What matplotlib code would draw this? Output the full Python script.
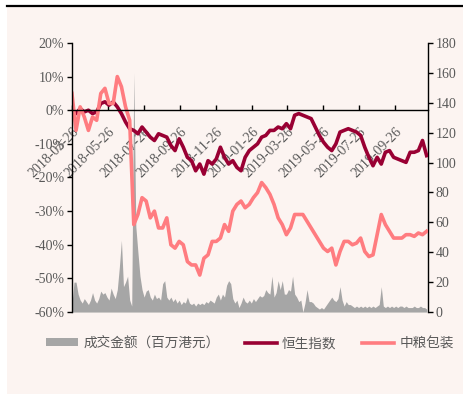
import pandas as pd
import matplotlib.pyplot as plt
from matplotlib.lines import Line2D
from matplotlib.patches import Patch, Rectangle

plt.rcParams['font.family'] = ['Liberation Serif', 'Noto Sans CJK SC']
plt.rcParams['axes.unicode_minus'] = False

# 周度日期（走势）和半周日期（成交额）
dates = pd.date_range('2018-03-26', '2019-11-18', freq='W-MON')
vol_dates = pd.date_range('2018-03-26', '2019-11-18', periods=173)

# 恒生指数 累计涨跌幅 (%)
hsi = [0, -1, 0.5, -0.5, 0, -1, -0.5, 2, 2.5, 1.5,
       2.5, 1, -1, -3.5, -5.5, -6, -7, -5, -6.5, -8,
       -9, -7, -7.5, -8, -10.5, -12, -8.5, -11, -14, -15,
       -18, -16, -19, -15, -16, -14.5, -11, -14, -16, -15,
       -17, -18, -14, -12, -11, -10, -8, -7.5, -6, -6,
       -5, -5.5, -4, -5.5, -1.5, -1, -1.5, -2, -2.5, -5,
       -7.5, -9.5, -11, -12, -10, -6.5, -6, -5.5, -6, -6.5,
       -7.5, -11, -14, -16.5, -14, -16, -12.5, -12, -14, -14.5,
       -15, -15.5, -12.5, -12.5, -12, -9, -13.5]

# 中粮包装 累计涨跌幅 (%)
cpmc = [5, -6, 1, -2, -6, -2, -3, 5, 6.5, 2,
        2, 10, 7, 1, -3, -34, -31, -26, -27, -32,
        -30, -35, -35, -32, -40, -41, -39, -40, -45, -46,
        -46, -49, -44, -43, -39, -39, -38, -34, -36, -30,
        -28, -27, -29, -28, -26, -24.5, -21.5, -23, -25, -28,
        -32, -34, -37, -35, -31, -31, -31, -33, -35, -37,
        -39, -41, -42, -41, -46, -42, -39, -39, -40, -39.5,
        -38, -42, -43.5, -43, -37, -31, -34, -36, -38, -38,
        -38, -37, -37, -37.5, -36.5, -37, -36]

# 成交金额（百万港元）
volume = [5, 20, 20, 12, 8, 6, 9, 7, 5, 8,
          13, 8, 6, 9, 14, 12, 13, 10, 8, 16,
          12, 9, 15, 30, 48, 17, 20, 24, 8, 4,
          160, 57, 40, 24, 15, 10, 14, 15, 10, 8,
          12, 9, 10, 8, 19, 21, 10, 8, 10, 7,
          9, 6, 8, 5, 7, 6, 10, 6, 5, 6,
          4, 6, 5, 6, 5, 7, 6, 8, 7, 6,
          10, 12, 8, 12, 10, 18, 21, 19, 9, 6,
          8, 3, 6, 10, 7, 6, 8, 6, 9, 7,
          9, 11, 10, 11, 15, 13, 12, 24, 10, 13,
          21, 15, 21, 12, 12, 15, 14, 24, 12, 10,
          7, 8, 0, 6, 15, 7, 7, 6, 4, 3,
          2, 3, 2, 4, 6, 8, 10, 8, 7, 9,
          17, 8, 4, 7, 5, 5, 4, 3, 4, 3,
          4, 3, 4, 3, 4, 3, 4, 3, 4, 5,
          17, 4, 3, 4, 3, 4, 3, 4, 3, 4,
          4, 3, 4, 3, 3, 3, 4, 3, 3, 4,
          3, 3, 2]

tick_dates = pd.to_datetime(['2018-03-26', '2018-05-26', '2018-07-26', '2018-09-26',
                             '2018-11-26', '2019-01-26', '2019-03-26', '2019-05-26',
                             '2019-07-26', '2019-09-26'])
tick_labels = [d.strftime('%Y-%m-%d') for d in tick_dates]

bg = '#FCF4F1'
grey_txt = '#595959'

fig = plt.figure(figsize=(4.64, 3.94), dpi=100, facecolor='white')
fig.patches.append(Rectangle((0.015, 0), 0.985, 0.985, transform=fig.transFigure,
                             facecolor=bg, edgecolor='none', zorder=-10))
fig.lines.append(Line2D([0.015, 1], [0.985, 0.985], transform=fig.transFigure,
                        color='black', lw=1.6))

ax = fig.add_axes([0.155, 0.208, 0.767, 0.683])
ax2 = ax.twinx()
ax.set_zorder(ax2.get_zorder() + 1)
ax.patch.set_visible(False)
ax2.patch.set_visible(False)

# 成交额面积
ax2.fill_between(vol_dates, volume, 0, color='#A6A6A6', lw=0)
ax2.set_ylim(0, 180)
ax2.set_yticks(range(0, 181, 20))

# 走势线
ax.plot(dates, hsi, color='#990033', lw=2.6, solid_joinstyle='round')
ax.plot(dates, cpmc, color='#FF7C80', lw=2.6, solid_joinstyle='round')
ax.set_ylim(-60, 20)
ax.set_yticks(range(-60, 21, 10))
ax.set_yticklabels([f'{v}%' for v in range(-60, 21, 10)])
ax.set_xlim(pd.Timestamp('2018-03-26'), pd.Timestamp('2019-11-20'))
ax.set_xticks(tick_dates)
ax.set_xticklabels(tick_labels)

for s in ['top', 'right']:
    ax.spines[s].set_visible(False)
ax.spines['bottom'].set_position(('data', 0))
for s in ['top', 'bottom', 'left']:
    ax2.spines[s].set_visible(False)
for s in ['left', 'bottom']:
    ax.spines[s].set_linewidth(1.0)
ax2.spines['right'].set_linewidth(1.0)

ax.tick_params(axis='x', direction='in', length=3.5, width=1, pad=11,
               labelsize=10, labelcolor=grey_txt)
ax.tick_params(axis='y', direction='out', length=3.5, width=1, pad=2,
               labelsize=10, labelcolor=grey_txt)
ax2.tick_params(axis='y', direction='out', length=3.5, width=1, pad=2,
                labelsize=10, labelcolor=grey_txt)
plt.setp(ax.get_xticklabels(), rotation=45, ha='right', va='top',
         rotation_mode='anchor')

handles = [Patch(facecolor='#A6A6A6', edgecolor='none'),
           Line2D([], [], color='#990033', lw=2.6),
           Line2D([], [], color='#FF7C80', lw=2.6)]
labels = ['成交金额（百万港元）', '恒生指数', '中粮包装']
fig.legend(handles, labels, loc='center', bbox_to_anchor=(0.539, 0.129), ncol=3,
           frameon=False, prop={'family': 'Noto Sans CJK SC', 'size': 9.8},
           labelcolor=grey_txt, handlelength=2.3, handleheight=0.55,
           handletextpad=0.4, columnspacing=1.9)

fig.savefig('out.png', dpi=100, facecolor='white')
